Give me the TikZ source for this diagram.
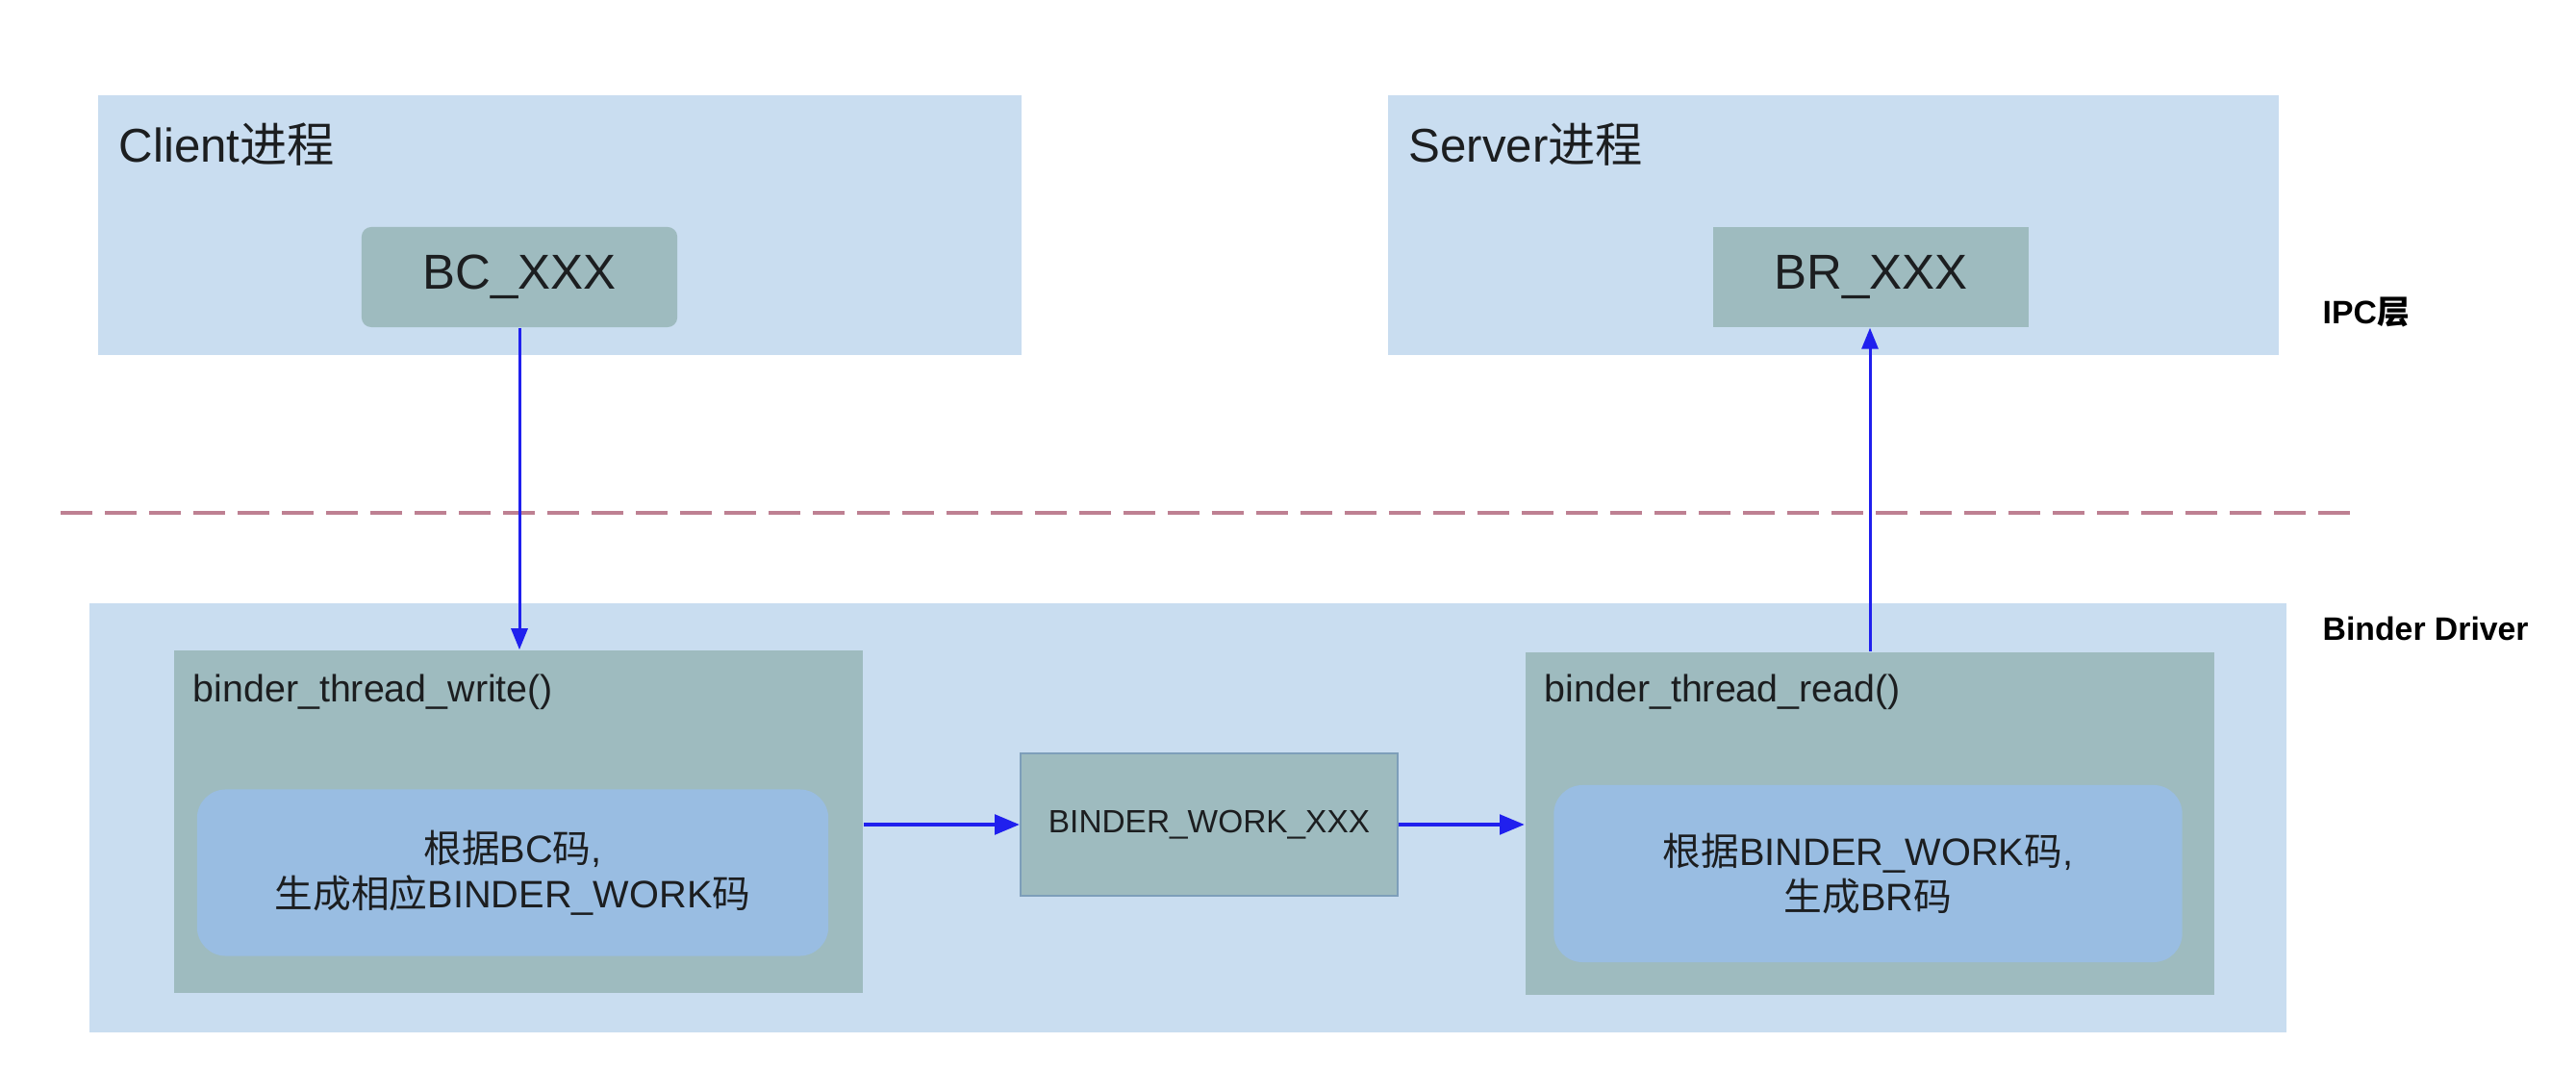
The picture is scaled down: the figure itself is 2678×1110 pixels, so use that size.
\documentclass[tikz,border=0pt]{standalone}
\usepackage{fontspec}
\setmainfont{Liberation Sans}
\newfontfamily\cjk{Noto Sans CJK SC}
\usetikzlibrary{arrows.meta}
\definecolor{layerblue}{RGB}{201,221,240}
\definecolor{boxgray}{RGB}{158,187,191}
\definecolor{innerblue}{RGB}{153,189,226}
\definecolor{edgegray}{RGB}{125,158,186}
\definecolor{flowblue}{RGB}{32,32,238}
\definecolor{splitred}{RGB}{190,128,146}
\definecolor{inkdark}{RGB}{28,30,32}
\begin{document}
\begin{tikzpicture}[x=0.01cm, y=-0.01cm,
    layer/.style={fill=layerblue, inner sep=0pt},
    codebox/.style={fill=boxgray, inner sep=0pt, text=inkdark},
    stepbox/.style={fill=innerblue, rounded corners=0.3cm, inner sep=0pt, text=inkdark, align=center},
    flow/.style={draw=flowblue, line width=0.85pt, -{Triangle[length=0.22cm, width=0.17cm]}},
    bigflow/.style={draw=flowblue, line width=1.4pt, -{Triangle[length=0.26cm, width=0.2cm]}},
    side/.style={anchor=west, inner sep=0pt, font=\bfseries\fontsize{9.6}{11}\selectfont}]
  \useasboundingbox (0, 0) rectangle (2678, 1110);
  % ipc layer
  \node [layer, minimum width=9.6cm, minimum height=2.7cm] (client) at (582, 234) {};
  \node [layer, minimum width=9.26cm, minimum height=2.7cm] (server) at (1906, 234) {};
  \node [anchor=west, inner sep=0pt, text=inkdark, font=\fontsize{14}{17}\selectfont] (clientlbl) at (123, 150) {Client{\cjk 进程}};
  \node [anchor=west, inner sep=0pt, text=inkdark, font=\fontsize{14}{17}\selectfont] (serverlbl) at (1464, 150) {Server{\cjk 进程}};
  \node [codebox, rounded corners=0.1cm, minimum width=3.28cm, minimum height=1.04cm, font=\fontsize{14.5}{17}\selectfont] (bc) at (540, 288) {BC\_XXX};
  \node [codebox, minimum width=3.28cm, minimum height=1.04cm, font=\fontsize{14.5}{17}\selectfont] (br) at (1945, 288) {BR\_XXX};
  \node [side] (ipclbl) at (2414, 325) {IPC{\cjk 层}};
  % split
  \coordinate (splitl) at (63, 533);
  \coordinate (splitr) at (2453, 533);
  \draw [splitred, line width=1.1pt, dash pattern=on 0.33cm off 0.13cm] (splitl) -- (splitr);
  % driver layer
  \node [layer, minimum width=22.82cm, minimum height=4.46cm] (driver) at (1235, 850) {};
  \node [side] (driverlbl) at (2414, 653) {Binder Driver};
  \node [codebox, minimum width=7.16cm, minimum height=3.56cm] (write) at (539, 854) {};
  \node [codebox, minimum width=7.16cm, minimum height=3.56cm] (read) at (1944, 856) {};
  \node [anchor=west, inner sep=0pt, text=inkdark, font=\fontsize{11.2}{13}\selectfont] (writelbl) at (200, 719) {binder\_thread\_write()};
  \node [anchor=west, inner sep=0pt, text=inkdark, font=\fontsize{11.2}{13}\selectfont] (readlbl) at (1605, 719) {binder\_thread\_read()};
  \node [stepbox, minimum width=6.56cm, minimum height=1.73cm, font=\fontsize{11.3}{13.4}\selectfont] (wstep) at (533, 907) {{\cjk 根据}BC{\cjk 码},\\{\cjk 生成相应}BINDER\_WORK{\cjk 码}};
  \node [stepbox, minimum width=6.53cm, minimum height=1.84cm, font=\fontsize{11.3}{13.4}\selectfont] (rstep) at (1942, 908) {{\cjk 根据}BINDER\_WORK{\cjk 码},\\{\cjk 生成}BR{\cjk 码}};
  \node [codebox, draw=edgegray, line width=0.4pt, minimum width=3.92cm, minimum height=1.48cm, font=\fontsize{9.5}{11}\selectfont] (work) at (1257, 857) {BINDER\_WORK\_XXX};
  % flows
  \draw [flow] (bc.south) -- (bc.south |- write.north);
  \draw [flow] (read.north) -- (read.north |- br.south);
  \draw [bigflow] (write.east |- work.west) -- (work.west);
  \draw [bigflow] (work.east) -- (work.east -| read.west);
\end{tikzpicture}
\end{document}
